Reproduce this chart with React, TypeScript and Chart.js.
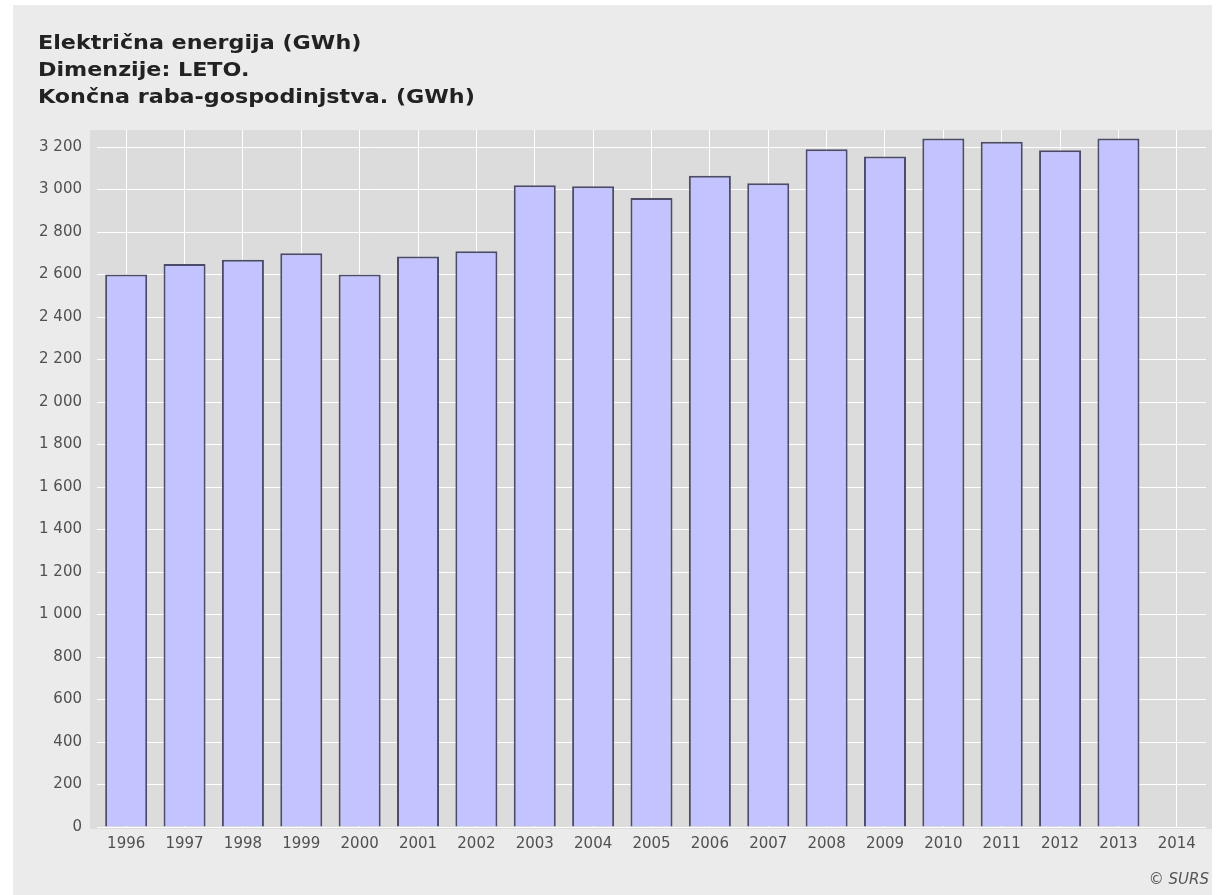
import React, { useEffect, useRef } from 'react';
import { Chart, registerables } from 'chart.js';

Chart.register(...registerables);

const years = ['1996', '1997', '1998', '1999', '2000', '2001', '2002', '2003', '2004', '2005', '2006', '2007', '2008', '2009', '2010', '2011', '2012', '2013', '2014'];
const consumption: (number | null)[] = [2600, 2650, 2670, 2700, 2600, 2685, 2710, 3020, 3015, 2960, 3065, 3030, 3190, 3155, 3240, 3225, 3185, 3240, null];
const yTickValues = [0, 200, 400, 600, 800, 1000, 1200, 1400, 1600, 1800, 2000, 2200, 2400, 2600, 2800, 3000, 3200];
const titleLines = ['Električna energija (GWh)', 'Dimenzije: LETO.', 'Končna raba-gospodinjstva. (GWh)'];
const credit = '© SURS';

const fmt = (v: number) => String(v).replace(/\B(?=(\d{3})+(?!\d))/g, ' ');

const decorPlugin = {
  id: 'decor',
  beforeDraw(chart: any) {
    const { ctx, chartArea, width, height } = chart;
    ctx.save();
    ctx.fillStyle = '#ebebeb';
    ctx.fillRect(0, 0, width, height);
    ctx.fillStyle = '#dcdcdc';
    ctx.fillRect(chartArea.left - 7, chartArea.top, width - (chartArea.left - 7), chartArea.bottom - chartArea.top + 2);
    ctx.restore();
  },
  afterDraw(chart: any) {
    const { ctx, width } = chart;
    ctx.save();
    ctx.fillStyle = '#222222';
    ctx.font = 'bold 19px "DejaVu Sans"';
    ctx.textAlign = 'left';
    ctx.textBaseline = 'alphabetic';
    titleLines.forEach((t, i) => {
      ctx.save();
      ctx.translate(25, 44 + i * 27);
      ctx.scale(1.17, 1);
      ctx.fillText(t, 0, 0);
      ctx.restore();
    });
    ctx.fillStyle = '#555555';
    ctx.font = 'italic 15px "DejaVu Sans"';
    ctx.textAlign = 'right';
    ctx.fillText(credit, width - 3, 879);
    ctx.restore();
  },
};

export default function App() {
  const ref = useRef<HTMLCanvasElement | null>(null);
  useEffect(() => {
    if (!ref.current) return;
    const chart = new Chart(ref.current, {
      type: 'bar',
      data: {
        labels: years,
        datasets: [
          {
            label: 'Končna raba-gospodinjstva',
            data: consumption,
            backgroundColor: '#c3c3ff',
            borderColor: '#4c4c6a',
            borderWidth: 2,
            barPercentage: 0.72,
            categoryPercentage: 1,
          },
        ],
      },
      options: {
        animation: false,
        responsive: false,
        maintainAspectRatio: false,
        layout: { padding: { left: 0, right: 6, top: 125, bottom: 0 } },
        plugins: { legend: { display: false }, title: { display: false }, tooltip: { enabled: false } },
        scales: {
          x: {
            offset: true,
            grid: { offset: false, color: '#ffffff', lineWidth: 1, drawTicks: false },
            border: { display: false },
            ticks: { color: '#505050', font: { family: 'DejaVu Sans', size: 15 }, padding: 8, maxRotation: 0, autoSkip: false },
            afterFit(scale: any) { scale.height = 68; },
          },
          y: {
            min: 0,
            max: 3280,
            grid: { color: '#ffffff', lineWidth: 1, drawTicks: false },
            border: { display: false },
            afterBuildTicks(scale: any) { scale.ticks = yTickValues.map((v) => ({ value: v })); },
            ticks: { color: '#505050', font: { family: 'DejaVu Sans', size: 15 }, padding: 15, callback: (v: any) => fmt(Number(v)) },
            afterFit(scale: any) { scale.width = 84; },
          },
        },
      },
      plugins: [decorPlugin],
    });
    return () => chart.destroy();
  }, []);
  return (
    <div style={{ position: 'absolute', left: 0, top: 0, width: 1219, height: 895, background: '#ffffff' }}>
      <canvas ref={ref} width={1199} height={890} style={{ position: 'absolute', left: 13, top: 5, width: 1199, height: 890 }} />
    </div>
  );
}
